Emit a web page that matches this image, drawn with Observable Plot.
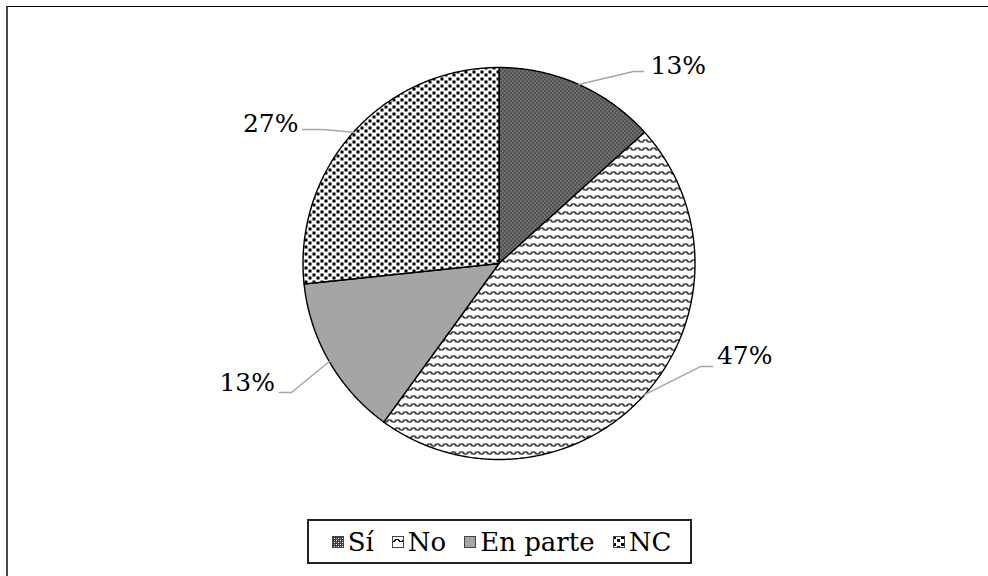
<!DOCTYPE html>
<html>
<head>
<meta charset="utf-8">
<script src="https://cdn.jsdelivr.net/npm/d3@7"></script>
<script src="https://cdn.jsdelivr.net/npm/@observablehq/plot@0.6"></script>
<style>
  html, body { margin: 0; padding: 0; background: #fff; width: 988px; height: 576px; overflow: hidden; }
  #frame { position: absolute; left: 6px; top: 6px; width: 1000px; height: 600px; box-sizing: border-box;
           border-left: 2px solid #4a4a4a; border-top: 1.5px solid #000; }
  #chart { position: absolute; left: 0; top: 0; }
  #legend { position: absolute; left: 307px; top: 519px; width: 385px; height: 45px; box-sizing: border-box;
            border: 2px solid #222; display: flex; align-items: center; justify-content: center;
            font-family: "DejaVu Serif", serif; font-size: 26px; color: #000; padding-left: 4px; }
  .item { display: flex; align-items: center; margin: 0 9px; white-space: nowrap; }
  .item svg { margin-right: 4px; }
</style>
</head>
<body>
<svg width="0" height="0" style="position:absolute">
  <defs>
    <pattern id="pSi" width="4" height="4" patternUnits="userSpaceOnUse" shape-rendering="crispEdges">
      <rect width="4" height="4" fill="#3c3c3c"/>
      <rect x="0" y="0" width="1" height="1" fill="#ffffff"/>
      <rect x="2" y="2" width="1" height="1" fill="#ffffff"/>
      <rect x="2" y="0" width="1" height="1" fill="#a0a0a0"/>
      <rect x="0" y="2" width="1" height="1" fill="#a0a0a0"/>
    </pattern>
    <pattern id="pNo" width="8" height="8" patternUnits="userSpaceOnUse" shape-rendering="crispEdges">
      <rect width="8" height="8" fill="#fff"/>
      <rect x="0" y="5" width="2" height="1" fill="#000"/>
      <rect x="2" y="4" width="1" height="2" fill="#000"/>
      <rect x="3" y="3" width="1" height="2" fill="#000"/>
      <rect x="4" y="3" width="2" height="1" fill="#000"/>
      <rect x="6" y="3" width="1" height="2" fill="#000"/>
      <rect x="7" y="4" width="1" height="2" fill="#000"/>
    </pattern>
    <pattern id="pNC" width="8" height="7" patternUnits="userSpaceOnUse" shape-rendering="crispEdges">
      <rect width="8" height="7" fill="#fff"/>
      <rect x="0" y="0" width="3" height="3" fill="#000"/>
      <rect x="4" y="3" width="3" height="3" fill="#000"/>
    </pattern>
  </defs>
</svg>
<div id="frame"></div>
<div id="chart"></div>
<div id="legend"></div>
<script>
// ---- data ----
const categories = ["Sí", "No", "En parte", "NC"];
const counts = [2, 7, 2, 4];            // shares: 13%, 47%, 13%, 27%
const fills = ["url(#pSi)", "url(#pNo)", "#a5a5a5", "url(#pNC)"];

// ---- label layout (in units of pie radius, relative to pie centre) ----
const labelLayout = {
  "Sí":       { elbow: [0.686, 0.980],  end: [0.737, 0.980],  text: [0.773, 1.010],  anchor: "start" },
  "No":       { elbow: [1.028, -0.526], end: [1.089, -0.526], text: [1.112, -0.472], anchor: "start" },
  "En parte": { elbow: [-1.059, -0.658], end: [-1.120, -0.658], text: [-1.143, -0.612], anchor: "end" },
  "NC":       { elbow: [-0.895, 0.684], end: [-1.003, 0.684], text: [-1.023, 0.712],  anchor: "end" }
};

const W = 988, H = 516, cx = 498.5, cy = 263, R = 196;
const total = d3.sum(counts);
const arcs = d3.pie().sort(null).value(d => d)(counts);

const slicePts = [];
const leaderPts = [];
const labelRows = [];
arcs.forEach((p, i) => {
  const cat = categories[i];
  slicePts.push({ cat, x: 0, y: 0 });
  const n = Math.max(2, Math.ceil((p.endAngle - p.startAngle) / (Math.PI / 360)));
  for (let k = 0; k <= n; k++) {
    const a = p.startAngle + (p.endAngle - p.startAngle) * k / n;
    slicePts.push({ cat, x: Math.sin(a), y: Math.cos(a) });
  }
  slicePts.push({ cat, x: 0, y: 0 });
  const mid = (p.startAngle + p.endAngle) / 2;
  const L = labelLayout[cat];
  leaderPts.push({ cat, x: Math.sin(mid), y: Math.cos(mid) });
  leaderPts.push({ cat, x: L.elbow[0], y: L.elbow[1] });
  leaderPts.push({ cat, x: L.end[0], y: L.end[1] });
  labelRows.push({ cat, x: L.text[0], y: L.text[1], anchor: L.anchor,
                   label: Math.round(100 * counts[i] / total) + "%" });
});

const chart = Plot.plot({
  width: W, height: H, margin: 0,
  x: { domain: [-cx / R, (W - cx) / R], axis: null },
  y: { domain: [-(H - cy) / R, cy / R], axis: null },
  color: { domain: categories, range: fills },
  style: { fontFamily: "DejaVu Serif", background: "transparent", overflow: "visible" },
  marks: [
    Plot.line(slicePts, { x: "x", y: "y", z: "cat", fill: "cat", stroke: "#000",
                          strokeWidth: 1.4, strokeLinejoin: "round" }),
    Plot.line(leaderPts, { x: "x", y: "y", z: "cat", stroke: "#a6a6a6", strokeWidth: 1.5 }),
    Plot.text(labelRows.filter(d => d.anchor === "start"),
              { x: "x", y: "y", text: "label", textAnchor: "start", lineAnchor: "middle",
                fontSize: 25, fill: "#000" }),
    Plot.text(labelRows.filter(d => d.anchor === "end"),
              { x: "x", y: "y", text: "label", textAnchor: "end", lineAnchor: "middle",
                fontSize: 25, fill: "#000" })
  ]
});
document.getElementById("chart").appendChild(chart);

// ---- legend ----
const legend = document.getElementById("legend");
categories.forEach((c, i) => {
  const item = document.createElement("div");
  item.className = "item";
  item.innerHTML = `<svg width="12" height="12"><rect x="0.5" y="0.5" width="11" height="11" fill="${fills[i]}" stroke="#444" stroke-width="1"/></svg><span>${c}</span>`;
  legend.appendChild(item);
});
</script>
</body>
</html>
